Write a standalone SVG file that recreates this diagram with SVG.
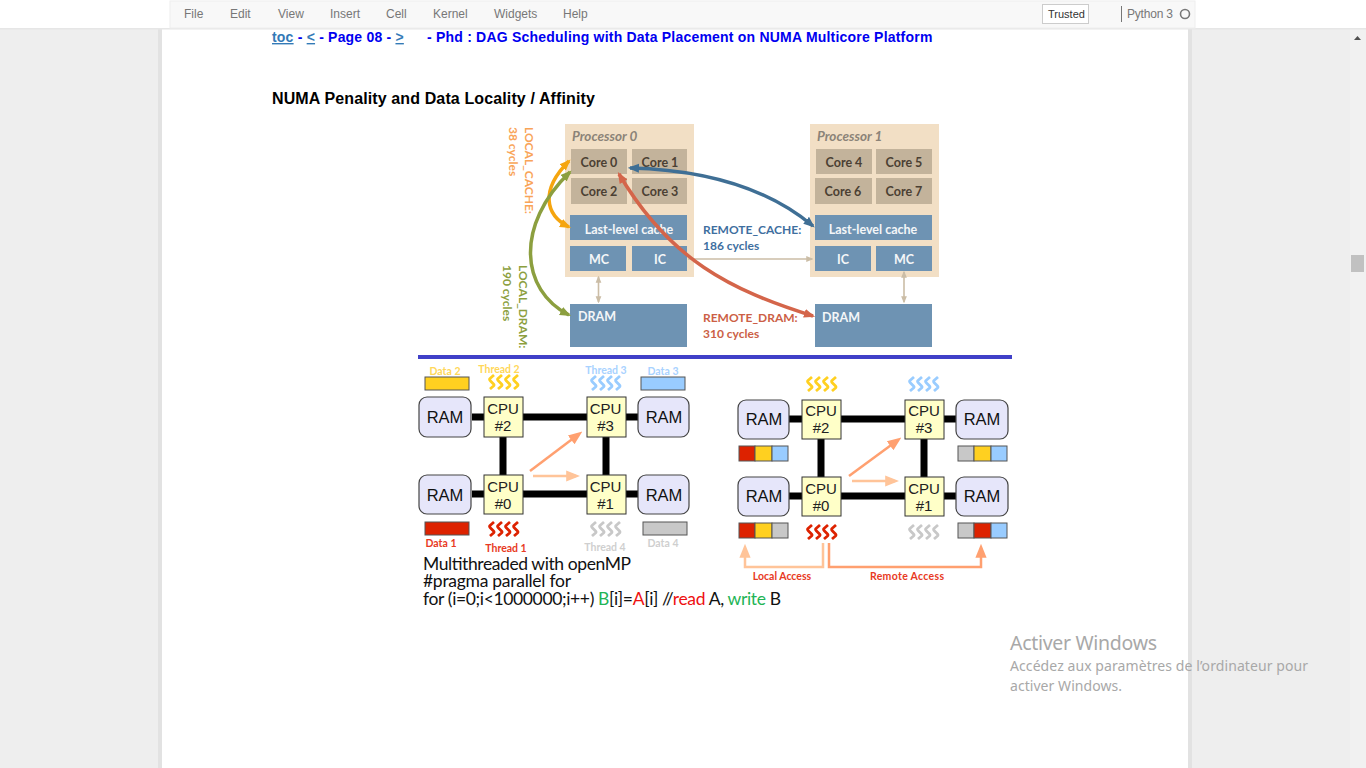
<svg xmlns="http://www.w3.org/2000/svg" xmlns:xlink="http://www.w3.org/1999/xlink" width="1366" height="768" viewBox="0 0 1366 768">
<style>
text{font-family:"Lato","Liberation Sans",sans-serif}
.ui{font-family:"Liberation Sans",Arial,sans-serif;font-size:12px;fill:#777}
.nav{font-family:"Liberation Sans",Arial,sans-serif;font-size:14px;font-weight:bold;fill:#0000f0;letter-spacing:.21px}
.lnk{fill:#337ab7;text-decoration:underline}
.proc{fill:#f2dfc5}
.core{fill:#c3b39b}
.blue{fill:#6e93b3}
.ct{font-size:12.5px;font-weight:bold;fill:#4b4033;text-anchor:middle}
.bt{font-size:12.5px;font-weight:bold;fill:#f4f6f8;text-anchor:middle}
.pt{font-size:13.5px;font-weight:bold;font-style:italic;fill:#8b8378}
.lab{font-size:12px;font-weight:bold}
.ram{fill:#e6e6fa;stroke:#444;stroke-width:1.2}
.cpu{fill:#ffffc8;stroke:#333;stroke-width:1}
.rt{font-family:"Liberation Sans",Arial,sans-serif;font-size:16.5px;fill:#111;text-anchor:middle}
.ctx{font-family:"Liberation Sans",Arial,sans-serif;font-size:15px;fill:#222;text-anchor:middle}
.bus{stroke:#000;stroke-width:7;fill:none}
.sq{fill:none;stroke-width:2.8;stroke-linejoin:round}
.dk{stroke:#555;stroke-width:1}
.tl{font-size:10.5px;font-weight:bold;text-anchor:middle}
.code{font-size:17.5px;fill:#111}
.wm{font-family:"Noto Sans","Liberation Sans",sans-serif;fill:#a8a8a8}
</style>
<defs>
<marker id="mO" viewBox="0 0 10 10" refX="8" refY="5" markerWidth="3.2" markerHeight="3.2" orient="auto-start-reverse"><path d="M0 1L10 5L0 9z" fill="#f5a50f"/></marker>
<marker id="mG" viewBox="0 0 10 10" refX="8" refY="5" markerWidth="3.2" markerHeight="3.2" orient="auto-start-reverse"><path d="M0 1L10 5L0 9z" fill="#8c9f3f"/></marker>
<marker id="mB" viewBox="0 0 10 10" refX="8" refY="5" markerWidth="3.2" markerHeight="3.2" orient="auto-start-reverse"><path d="M0 1L10 5L0 9z" fill="#3f6f95"/></marker>
<marker id="mR" viewBox="0 0 10 10" refX="8" refY="5" markerWidth="3.2" markerHeight="3.2" orient="auto-start-reverse"><path d="M0 1L10 5L0 9z" fill="#d4654a"/></marker>
<marker id="mT" viewBox="0 0 10 10" refX="8" refY="5" markerWidth="4.5" markerHeight="4.5" orient="auto-start-reverse"><path d="M0 1L10 5L0 9z" fill="#cbbda6"/></marker>
<marker id="mA" viewBox="0 0 10 10" refX="7" refY="5" markerWidth="5.6" markerHeight="5.6" orient="auto"><path d="M0 1L10 5L0 9z" fill="#ffa070"/></marker>
<marker id="mL" viewBox="0 0 10 10" refX="7" refY="5" markerWidth="5.6" markerHeight="5.6" orient="auto"><path d="M0 1L10 5L0 9z" fill="#ffc499"/></marker>
<g id="squig">
<path class="sq" d="M6 1L2 4.500Q1 5.500 2.500 7L5.500 10Q6.500 11 5.500 12L2 15"/>
<path class="sq" d="M14 1L10 4.500Q9 5.500 10.500 7L13.500 10Q14.500 11 13.500 12L10 15"/>
<path class="sq" d="M22 1L18 4.500Q17 5.500 18.500 7L21.500 10Q22.500 11 21.500 12L18 15"/>
<path class="sq" d="M30 1L26 4.500Q25 5.500 26.500 7L29.500 10Q30.500 11 29.500 12L26 15"/>
</g>
</defs>

<g id="page">
<rect width="1366" height="768" fill="#eeeeee"/>
<rect x="158" y="28" width="4" height="740" fill="#e2e2e2"/>
<rect x="1188" y="28" width="4" height="740" fill="#e2e2e2"/>
<rect x="162" y="28" width="1026" height="740" fill="#fff"/>
<rect x="1350" y="28" width="16" height="740" fill="#f1f1f1"/>
<rect x="1351" y="255" width="13" height="17" fill="#c1c1c1"/>
<path d="M1354 40L1361 40L1357.500 36z" fill="#505050"/>
</g>

<g id="menubar">
<rect width="1366" height="29" fill="#fff"/>
<rect y="28" width="1366" height="1.500" fill="#e6e6e6"/>
<rect x="170" y="1" width="1025" height="27" fill="#f8f8f8" stroke="#eee"/>
<text class="ui" x="184" y="18">File</text>
<text class="ui" x="230" y="18">Edit</text>
<text class="ui" x="278" y="18">View</text>
<text class="ui" x="330" y="18">Insert</text>
<text class="ui" x="386" y="18">Cell</text>
<text class="ui" x="433" y="18">Kernel</text>
<text class="ui" x="494" y="18">Widgets</text>
<text class="ui" x="563" y="18">Help</text>
<rect x="1042.500" y="4.500" width="46" height="19" fill="#fff" stroke="#ccc"/>
<text class="ui" x="1048" y="18" style="font-size:11px;fill:#333">Trusted</text>
<rect x="1121" y="6" width="1" height="16" fill="#777"/>
<text class="ui" x="1127" y="18" textLength="46">Python 3</text>
<circle cx="1185" cy="14" r="4.500" fill="none" stroke="#777" stroke-width="1.600"/>
</g>

<g id="heading">
<text class="nav" x="272" y="42" style="letter-spacing:.2px"><tspan class="lnk">toc</tspan> - <tspan class="lnk">&lt;</tspan> - Page 08 - <tspan class="lnk">&gt;</tspan></text>
<text class="nav" x="427" y="42">- Phd : DAG Scheduling with Data Placement on NUMA Multicore Platform</text>
<text x="272" y="104" style="font-family:'Liberation Sans',Arial,sans-serif;font-size:16px;font-weight:bold;fill:#000;letter-spacing:.12px">NUMA Penality and Data Locality / Affinity</text>
</g>

<g id="processor0">
<rect class="proc" x="565" y="124" width="129" height="153"/>
<text class="pt" x="572" y="141">Processor 0</text>
</g>
<g id="processor1">
<rect class="proc" x="810" y="124" width="129" height="153"/>
<text class="pt" x="817" y="141">Processor 1</text>
</g>
<g id="core0"><rect class="core" x="571" y="149" width="56" height="25"/><text class="ct" x="599" y="167">Core 0</text></g>
<g id="core1"><rect class="core" x="632" y="149" width="55" height="25"/><text class="ct" x="660" y="167">Core 1</text></g>
<g id="core2"><rect class="core" x="571" y="178" width="56" height="26"/><text class="ct" x="599" y="196">Core 2</text></g>
<g id="core3"><rect class="core" x="632" y="178" width="55" height="26"/><text class="ct" x="660" y="196">Core 3</text></g>
<g id="core4"><rect class="core" x="816" y="149" width="56" height="25"/><text class="ct" x="844" y="167">Core 4</text></g>
<g id="core5"><rect class="core" x="876" y="149" width="56" height="25"/><text class="ct" x="904" y="167">Core 5</text></g>
<g id="core6"><rect class="core" x="815" y="178" width="57" height="26"/><text class="ct" x="843" y="196">Core 6</text></g>
<g id="core7"><rect class="core" x="876" y="178" width="56" height="26"/><text class="ct" x="904" y="196">Core 7</text></g>
<g id="llc0"><rect class="blue" x="570" y="215" width="117" height="25"/><text class="bt" x="629" y="234">Last-level cache</text></g>
<g id="llc1"><rect class="blue" x="815" y="215" width="117" height="25"/><text class="bt" x="873" y="234">Last-level cache</text></g>
<g id="mc0"><rect class="blue" x="570" y="246" width="56" height="25"/><text class="bt" x="599" y="264">MC</text></g>
<g id="ic0"><rect class="blue" x="632" y="246" width="55" height="25"/><text class="bt" x="660" y="264">IC</text></g>
<g id="ic1"><rect class="blue" x="815" y="246" width="56" height="25"/><text class="bt" x="843" y="264">IC</text></g>
<g id="mc1"><rect class="blue" x="876" y="246" width="56" height="25"/><text class="bt" x="904" y="264">MC</text></g>
<g id="dram0"><rect class="blue" x="570" y="304" width="117" height="43"/><text class="bt" x="578" y="321" style="text-anchor:start">DRAM</text></g>
<g id="dram1"><rect class="blue" x="815" y="304" width="117" height="43"/><text class="bt" x="822" y="322" style="text-anchor:start">DRAM</text></g>

<g id="connectors-top" fill="none">
<path d="M688 259H812" stroke="#cbbda6" stroke-width="1.600" marker-end="url(#mT)"/>
<path d="M598.500 277V302" stroke="#cbbda6" stroke-width="1.600" marker-start="url(#mT)" marker-end="url(#mT)"/>
<path d="M904 272V302" stroke="#cbbda6" stroke-width="1.600" marker-start="url(#mT)" marker-end="url(#mT)"/>
<path d="M569 161C540 190 545 215 569 227" stroke="#f5a50f" stroke-width="3.500" marker-start="url(#mO)" marker-end="url(#mO)"/>
<path d="M570 172C515 225 520 290 569 315" stroke="#8c9f3f" stroke-width="3.500" marker-start="url(#mG)" marker-end="url(#mG)"/>
<path d="M630 168C710 170 770 190 813 226" stroke="#3f6f95" stroke-width="3.500" marker-start="url(#mB)" marker-end="url(#mB)"/>
<path d="M619 174C670 260 730 290 813 316" stroke="#d4654a" stroke-width="3.500" marker-start="url(#mR)" marker-end="url(#mR)"/>
</g>

<g id="labels-top">
<text class="lab" transform="translate(525 127) rotate(90)" fill="#f9a458">LOCAL_CACHE:</text>
<text class="lab" transform="translate(509 127) rotate(90)" fill="#f9a458">38 cycles</text>
<text class="lab" transform="translate(519 265) rotate(90)" fill="#8c9f3f">LOCAL_DRAM:</text>
<text class="lab" transform="translate(503 265) rotate(90)" fill="#8c9f3f">190 cycles</text>
<text class="lab" x="703" y="234" fill="#3f6f9f">REMOTE_CACHE:</text>
<text class="lab" x="703" y="250" fill="#3f6f9f">186 cycles</text>
<text class="lab" x="703" y="322" fill="#cc5f46">REMOTE_DRAM:</text>
<text class="lab" x="703" y="338" fill="#cc5f46">310 cycles</text>
</g>

<g id="divider"><rect x="418" y="355" width="594" height="4" fill="#4040c8"/></g>

<g id="connectors-left">
<path class="bus" d="M472 417H587M626 417H638M472 494H587M626 494H638M503 437V475M606 437V475"/>
<path d="M530 471L579 434" stroke="#ffa070" stroke-width="2.500" fill="none" marker-end="url(#mA)"/>
<path d="M533 476L576 476" stroke="#ffc499" stroke-width="2.500" fill="none" marker-end="url(#mL)"/>
</g>
<g id="ram-l-tl"><rect class="ram" x="419" y="397" width="52" height="40" rx="8"/><text class="rt" x="445" y="423">RAM</text></g>
<g id="ram-l-tr"><rect class="ram" x="638" y="397" width="51" height="40" rx="8"/><text class="rt" x="664" y="423">RAM</text></g>
<g id="ram-l-bl"><rect class="ram" x="419" y="475" width="52" height="39" rx="8"/><text class="rt" x="445" y="501">RAM</text></g>
<g id="ram-l-br"><rect class="ram" x="638" y="475" width="51" height="39" rx="8"/><text class="rt" x="664" y="501">RAM</text></g>
<g id="cpu-l-2"><rect class="cpu" x="484" y="397" width="39" height="40"/><text class="ctx" x="503" y="414">CPU</text><text class="ctx" x="503" y="431">#2</text></g>
<g id="cpu-l-3"><rect class="cpu" x="587" y="397" width="39" height="40"/><text class="ctx" x="605.500" y="414">CPU</text><text class="ctx" x="605.500" y="431">#3</text></g>
<g id="cpu-l-0"><rect class="cpu" x="484" y="475" width="39" height="39"/><text class="ctx" x="503" y="492">CPU</text><text class="ctx" x="503" y="509">#0</text></g>
<g id="cpu-l-1"><rect class="cpu" x="587" y="475" width="39" height="39"/><text class="ctx" x="605.500" y="492">CPU</text><text class="ctx" x="605.500" y="509">#1</text></g>

<g id="threads-left">
<use xlink:href="#squig" href="#squig" x="488" y="374" stroke="#ffd020"/>
<use xlink:href="#squig" href="#squig" x="590" y="375" stroke="#99ccff"/>
<use xlink:href="#squig" href="#squig" x="488" y="521" stroke="#dd2200"/>
<use xlink:href="#squig" href="#squig" x="590" y="521" stroke="#c8c8c8"/>
<text class="tl" x="499" y="373" fill="#ffd75a">Thread 2</text>
<text class="tl" x="606" y="374" fill="#a8d2ff">Thread 3</text>
<text class="tl" x="506" y="552" fill="#e83a24">Thread 1</text>
<text class="tl" x="605" y="551" fill="#cfcfcf">Thread 4</text>
</g>
<g id="data-left">
<rect class="dk" x="425" y="377" width="44" height="13" fill="#ffd020"/>
<rect class="dk" x="641" y="377" width="44" height="13" fill="#99ccff"/>
<rect class="dk" x="425" y="522" width="44" height="13" fill="#dd2200"/>
<rect class="dk" x="643" y="522" width="44" height="13" fill="#c8c8c8"/>
<text class="tl" x="445" y="375" fill="#ffd75a">Data 2</text>
<text class="tl" x="663" y="375" fill="#a8d2ff">Data 3</text>
<text class="tl" x="441" y="547" fill="#e83a24">Data 1</text>
<text class="tl" x="663" y="547" fill="#cfcfcf">Data 4</text>
</g>

<g id="connectors-right">
<path class="bus" d="M789 419H905M944 419H956M789 496H905M944 496H956M821 439V477M924 439V477"/>
<path d="M849 476L898 440" stroke="#ffa070" stroke-width="2.500" fill="none" marker-end="url(#mA)"/>
<path d="M852 481L895 481" stroke="#ffc499" stroke-width="2.500" fill="none" marker-end="url(#mL)"/>
<path d="M823 543V567H745V548" stroke="#ffc499" stroke-width="2.500" fill="none" marker-end="url(#mL)"/>
<path d="M829 543V567H981V548" stroke="#ffa070" stroke-width="2.500" fill="none" marker-end="url(#mA)"/>
</g>
<g id="ram-r-tl"><rect class="ram" x="738" y="400" width="51" height="39" rx="8"/><text class="rt" x="764" y="425">RAM</text></g>
<g id="ram-r-tr"><rect class="ram" x="956" y="400" width="52" height="39" rx="8"/><text class="rt" x="982" y="425">RAM</text></g>
<g id="ram-r-bl"><rect class="ram" x="738" y="477" width="51" height="39" rx="8"/><text class="rt" x="764" y="502">RAM</text></g>
<g id="ram-r-br"><rect class="ram" x="956" y="477" width="52" height="39" rx="8"/><text class="rt" x="982" y="502">RAM</text></g>
<g id="cpu-r-2"><rect class="cpu" x="802" y="400" width="39" height="39"/><text class="ctx" x="821" y="416">CPU</text><text class="ctx" x="821" y="433">#2</text></g>
<g id="cpu-r-3"><rect class="cpu" x="905" y="400" width="39" height="39"/><text class="ctx" x="924" y="416">CPU</text><text class="ctx" x="924" y="433">#3</text></g>
<g id="cpu-r-0"><rect class="cpu" x="802" y="477" width="39" height="39"/><text class="ctx" x="821" y="494">CPU</text><text class="ctx" x="821" y="511">#0</text></g>
<g id="cpu-r-1"><rect class="cpu" x="905" y="477" width="39" height="39"/><text class="ctx" x="924" y="494">CPU</text><text class="ctx" x="924" y="511">#1</text></g>
<g id="threads-right">
<use xlink:href="#squig" href="#squig" x="806" y="376" stroke="#ffd020"/>
<use xlink:href="#squig" href="#squig" x="908" y="376" stroke="#99ccff"/>
<use xlink:href="#squig" href="#squig" x="806" y="524" stroke="#dd2200"/>
<use xlink:href="#squig" href="#squig" x="908" y="524" stroke="#c8c8c8"/>
</g>
<g id="data-right">
<rect class="dk" x="739" y="446" width="16" height="15" fill="#dd2200"/><rect class="dk" x="755" y="446" width="17" height="15" fill="#ffd020"/><rect class="dk" x="772" y="446" width="16" height="15" fill="#99ccff"/>
<rect class="dk" x="958" y="446" width="16" height="15" fill="#c8c8c8"/><rect class="dk" x="974" y="446" width="17" height="15" fill="#ffd020"/><rect class="dk" x="991" y="446" width="16" height="15" fill="#99ccff"/>
<rect class="dk" x="739" y="523" width="16" height="15" fill="#dd2200"/><rect class="dk" x="755" y="523" width="17" height="15" fill="#ffd020"/><rect class="dk" x="772" y="523" width="16" height="15" fill="#c8c8c8"/>
<rect class="dk" x="958" y="523" width="16" height="15" fill="#c8c8c8"/><rect class="dk" x="974" y="523" width="17" height="15" fill="#dd2200"/><rect class="dk" x="991" y="523" width="16" height="15" fill="#99ccff"/>
<text class="tl" x="782" y="580" fill="#e83a24">Local Access</text>
<text class="tl" x="907" y="580" fill="#e83a24" textLength="74">Remote Access</text>
</g>

<g id="code">
<text class="code" x="423" y="570" textLength="208">Multithreaded with openMP</text>
<text class="code" x="423" y="587" textLength="148">#pragma parallel for</text>
<text class="code" x="423" y="605" textLength="358">for (i=0;i&lt;1000000;i++) <tspan fill="#22b455">B</tspan>[i]=<tspan fill="#ee1111">A</tspan>[i]  //<tspan fill="#ee1111">read</tspan> A, <tspan fill="#22b455">write</tspan> B</text>
</g>

<g id="watermark">
<text class="wm" x="1010" y="650" style="font-size:19.500px" textLength="147">Activer Windows</text>
<text class="wm" x="1010" y="671" style="font-size:14px" textLength="298">Accédez aux paramètres de l’ordinateur pour</text>
<text class="wm" x="1010" y="691" style="font-size:14px" textLength="112">activer Windows.</text>
</g>
</svg>
